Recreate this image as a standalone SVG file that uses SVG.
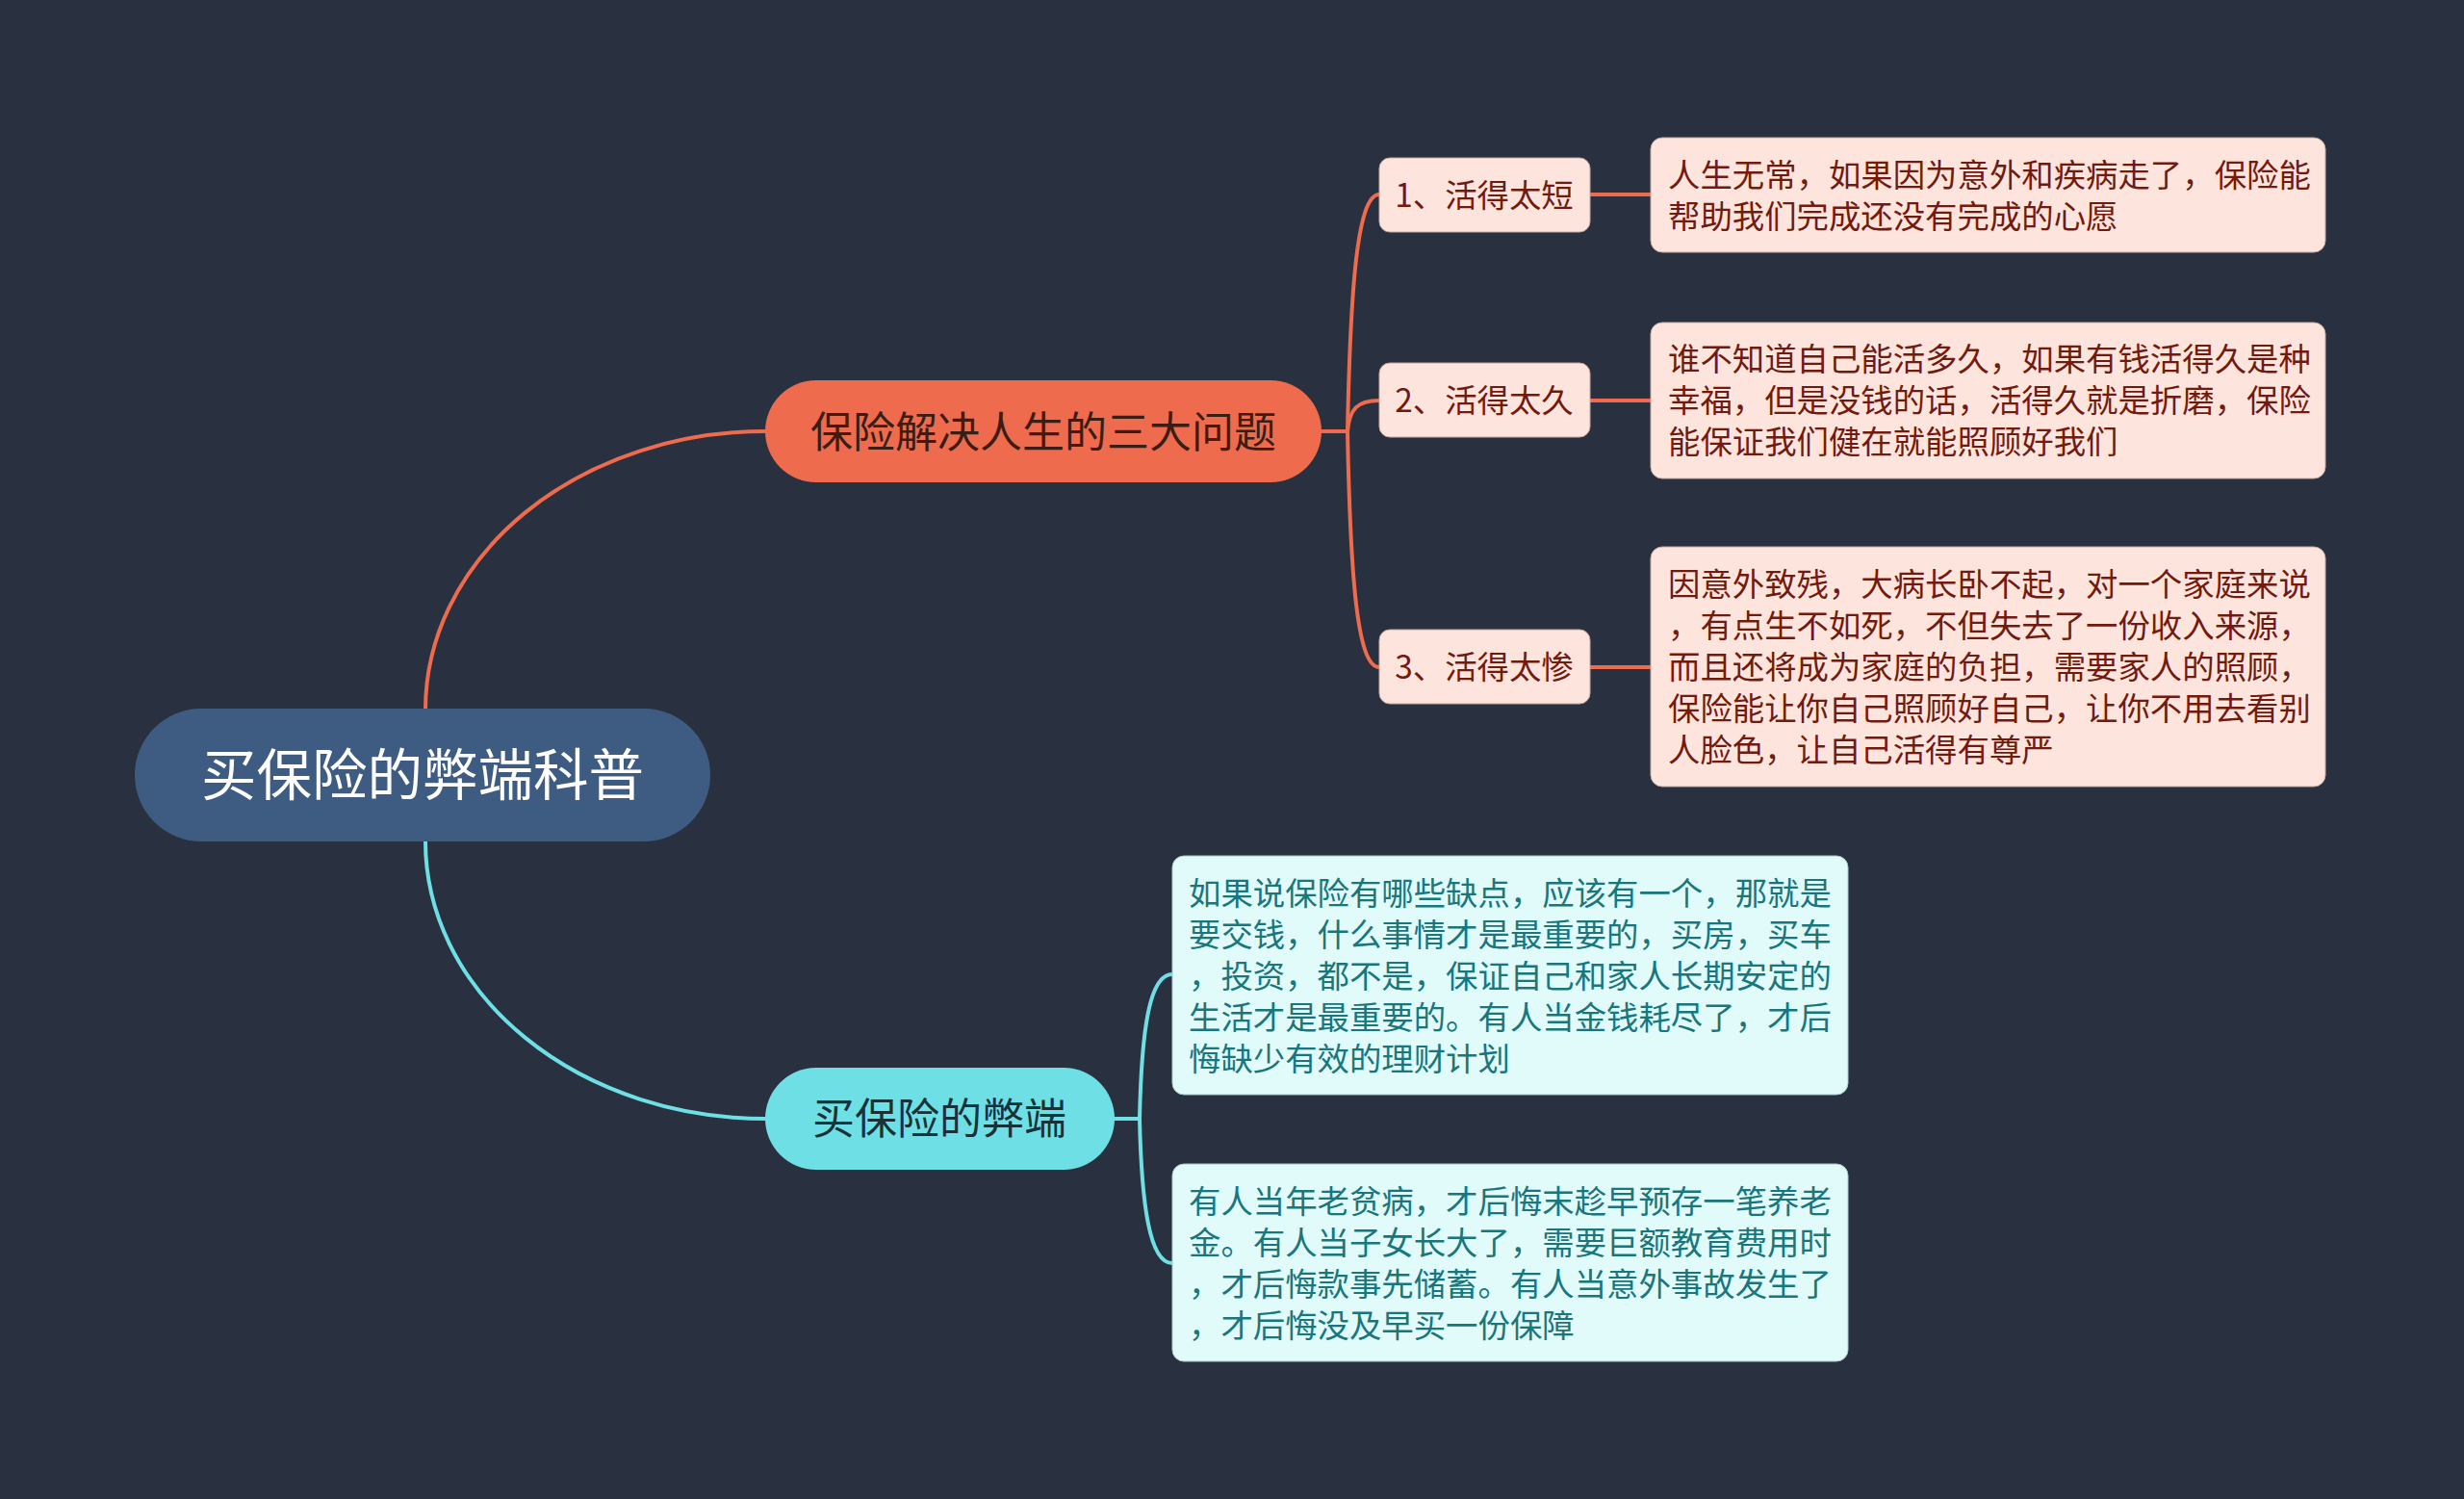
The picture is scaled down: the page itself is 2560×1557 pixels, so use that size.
<svg xmlns="http://www.w3.org/2000/svg" width="2560" height="1557" viewBox="0 0 2560 1557">
<style>
text{font-family:"Noto Sans CJK SC","Noto Sans",sans-serif;}
.root{fill:#3e5b82;}
.roott{fill:#ffffff;font-size:57.5px;}
.m1{fill:#ee6b4d;}
.m1t{fill:#3a1d15;font-size:44px;}
.m2{fill:#6ee0e5;}
.m2t{fill:#173238;font-size:44px;}
.pk{fill:#fde5de;stroke:#c7a79f;stroke-width:1;}
.pkt{fill:#721a0e;font-size:33.4px;}
.cy{fill:#e1fafa;stroke:#a6c9ca;stroke-width:1;}
.cyt{fill:#17777d;font-size:33.4px;}
.lo{fill:none;stroke:#ee6b4d;stroke-width:4;stroke-linecap:round;}
.lc{fill:none;stroke:#6ee0e5;stroke-width:4;stroke-linecap:round;}
</style>
<rect width="2560" height="1557" fill="#29303f"/>
<g id="connectors">
<path class="lo" d="M 442 737 A 353 289 0 0 1 795 448"/>
<path class="lc" d="M 442 874 A 353 288 0 0 0 795 1162"/>
<path class="lo" d="M 1372 448 H 1400 C 1403 300 1410 202 1433 202"/>
<path class="lo" d="M 1372 448 H 1400 C 1402 425 1410 416 1433 416"/>
<path class="lo" d="M 1372 448 H 1400 C 1403 600 1410 693 1433 693"/>
<path class="lo" d="M 1652 202 H 1715"/>
<path class="lo" d="M 1652 416 H 1715"/>
<path class="lo" d="M 1652 693 H 1715"/>
<path class="lc" d="M 1157 1162 H 1184 C 1186 1070 1194 1012 1218 1012"/>
<path class="lc" d="M 1157 1162 H 1184 C 1186 1250 1194 1312 1218 1312"/>
</g>
<g id="root">
<rect class="root" x="140" y="736" width="598" height="138" rx="69"/>
<text class="roott" x="439" y="826" text-anchor="middle">买保险的弊端科普</text>
</g>
<g id="main1">
<rect class="m1" x="795" y="395" width="578" height="106" rx="53"/>
<text class="m1t" x="1084" y="464.5" text-anchor="middle">保险解决人生的三大问题</text>
</g>
<g id="main2">
<rect class="m2" x="795" y="1109" width="363" height="106" rx="53"/>
<text class="m2t" x="976" y="1178" text-anchor="middle">买保险的弊端</text>
</g>
<g id="sub1">
<rect class="pk" x="1433" y="164" width="219" height="77" rx="11"/>
<text class="pkt" x="1542" y="215" text-anchor="middle">1、活得太短</text>
</g>
<g id="sub2">
<rect class="pk" x="1433" y="377" width="219" height="77" rx="11"/>
<text class="pkt" x="1542" y="428" text-anchor="middle">2、活得太久</text>
</g>
<g id="sub3">
<rect class="pk" x="1433" y="654" width="219" height="77" rx="11"/>
<text class="pkt" x="1542" y="705" text-anchor="middle">3、活得太惨</text>
</g>
<g id="detail1">
<rect class="pk" x="1715" y="143" width="701" height="119" rx="12"/>
<text class="pkt" x="1733" y="193.5"><tspan x="1733">人生无常，如果因为意外和疾病走了，保险能</tspan><tspan x="1733" dy="43">帮助我们完成还没有完成的心愿</tspan></text>
</g>
<g id="detail2">
<rect class="pk" x="1715" y="335" width="701" height="162" rx="12"/>
<text class="pkt" x="1733" y="385"><tspan x="1733">谁不知道自己能活多久，如果有钱活得久是种</tspan><tspan x="1733" dy="43">幸福，但是没钱的话，活得久就是折磨，保险</tspan><tspan x="1733" dy="43">能保证我们健在就能照顾好我们</tspan></text>
</g>
<g id="detail3">
<rect class="pk" x="1715" y="568" width="701" height="249" rx="12"/>
<text class="pkt" x="1733" y="619"><tspan x="1733">因意外致残，大病长卧不起，对一个家庭来说</tspan><tspan x="1733" dy="43">，有点生不如死，不但失去了一份收入来源，</tspan><tspan x="1733" dy="43">而且还将成为家庭的负担，需要家人的照顾，</tspan><tspan x="1733" dy="43">保险能让你自己照顾好自己，让你不用去看别</tspan><tspan x="1733" dy="43">人脸色，让自己活得有尊严</tspan></text>
</g>
<g id="detail4">
<rect class="cy" x="1218" y="889" width="702" height="248" rx="12"/>
<text class="cyt" x="1235" y="939.5"><tspan x="1235">如果说保险有哪些缺点，应该有一个，那就是</tspan><tspan x="1235" dy="43">要交钱，什么事情才是最重要的，买房，买车</tspan><tspan x="1235" dy="43">，投资，都不是，保证自己和家人长期安定的</tspan><tspan x="1235" dy="43">生活才是最重要的。有人当金钱耗尽了，才后</tspan><tspan x="1235" dy="43">悔缺少有效的理财计划</tspan></text>
</g>
<g id="detail5">
<rect class="cy" x="1218" y="1209" width="702" height="205" rx="12"/>
<text class="cyt" x="1235" y="1259.5"><tspan x="1235">有人当年老贫病，才后悔末趁早预存一笔养老</tspan><tspan x="1235" dy="43">金。有人当子女长大了，需要巨额教育费用时</tspan><tspan x="1235" dy="43">，才后悔款事先储蓄。有人当意外事故发生了</tspan><tspan x="1235" dy="43">，才后悔没及早买一份保障</tspan></text>
</g>
</svg>
